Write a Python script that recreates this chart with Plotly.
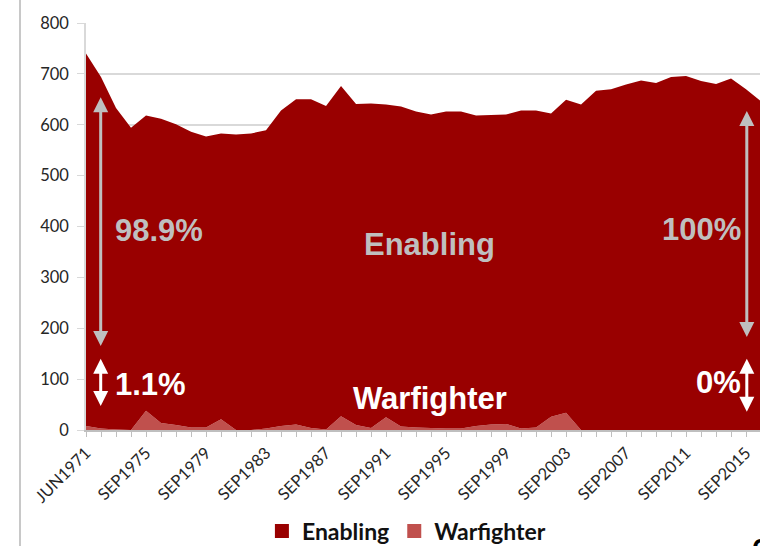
import plotly.graph_objects as go

# Fiscal-year snapshots: first one is June 1971, then every September
categories = ["JUN1971"] + [f"SEP{yr}" for yr in range(1972, 2017)]

# Total personnel (thousands) at the top of the stack
total = [740, 694, 633, 594, 618, 612, 601, 586, 577, 583,
         581, 583, 589, 628, 650, 650, 637, 676, 641, 642,
         640, 636, 626, 620, 626, 626, 618, 619, 620, 628,
         628, 622, 649, 640, 667, 670, 679, 687, 682, 694,
         696, 686, 680, 691, 670, 646]

# Warfighter share (thousands)
warfighter = [8, 3, 1, 0, 38, 14, 10, 5, 5, 21,
              0, 0, 3, 8, 11, 4, 1, 27, 10, 4,
              25, 7, 5, 4, 3, 3, 8, 11, 12, 3,
              5, 26, 34, 0, 0, 0, 0, 0, 0, 0,
              0, 0, 0, 0, 0, 0]

enabling = [t - w for t, w in zip(total, warfighter)]

# Only every fourth snapshot is labelled on the axis
tick_text = [c if i % 4 == 0 else "" for i, c in enumerate(categories)]

DARK_RED = "#990000"
LIGHT_RED = "#C0504D"
GREY = "#BFBFBF"

fig = go.Figure()

fig.add_trace(go.Scatter(
    x=categories, y=warfighter, name="Warfighter", stackgroup="one",
    mode="none", fillcolor=LIGHT_RED, showlegend=False,
))
fig.add_trace(go.Scatter(
    x=categories, y=enabling, name="Enabling", stackgroup="one",
    mode="none", fillcolor=DARK_RED, showlegend=False,
))

# Square legend keys
for name, col in [("Enabling", DARK_RED), ("Warfighter", LIGHT_RED)]:
    fig.add_trace(go.Scatter(
        x=[None], y=[None], mode="markers", name=name,
        marker=dict(symbol="square", size=14, color=col),
    ))

big = dict(family="Liberation Sans, Arial", size=31, weight="bold")

def label(x, y, text, color, xanchor="center"):
    fig.add_annotation(x=x, y=y, xref="x", yref="y", text=text,
                       showarrow=False, xanchor=xanchor, yanchor="middle",
                       font=dict(color=color, **big))

def double_arrow(x, y_top, y_bottom, color, width=3):
    fig.add_annotation(x=x, y=y_top, ax=x, ay=y_bottom,
                       xref="x", yref="y", axref="x", ayref="y",
                       text="", showarrow=True, arrowside="end+start",
                       arrowhead=2, startarrowhead=2,
                       arrowsize=1, startarrowsize=1,
                       arrowwidth=width, arrowcolor=color,
                       standoff=0, startstandoff=0)

double_arrow(0.98, 654, 162, GREY)
double_arrow(44.05, 627, 180, GREY)
double_arrow(0.98, 140, 44, "white")
double_arrow(44.05, 140, 33, "white")

label(4.87, 392, "98.9%", GREY)
label(41.0, 394, "100%", GREY)
label(22.9, 364, "Enabling", GREY)
label(22.9, 62, "Warfighter", "white")
label(4.3, 90, "1.1%", "white")
label(42.17, 93, "0%", "white")

# Slide frame line and page number
fig.add_shape(type="line", xref="paper", yref="paper",
              x0=-0.0979, x1=-0.0979, y0=-0.3, y1=1.1,
              line=dict(color="#C8C8C8", width=2))
fig.add_annotation(xref="paper", yref="paper", x=1.0, y=-0.2445,
                   xanchor="left", yanchor="top", text="6",
                   showarrow=False, xshift=-10,
                   font=dict(family="Liberation Sans, Arial", size=30,
                             weight="bold", color="black"))

tick_font = dict(family="Lato", size=16.5, color="#262626")

fig.update_layout(
    width=760, height=546,
    margin=dict(l=86, r=0, t=23, b=116, autoexpand=False),
    plot_bgcolor="white", paper_bgcolor="white",
    showlegend=True,
    legend=dict(orientation="h", x=0.261, y=-0.248,
                xanchor="left", yanchor="middle", traceorder="normal",
                font=dict(family="Lato", size=23, weight="bold",
                          color="#111111"),
                bgcolor="rgba(0,0,0,0)"),
    xaxis=dict(
        type="category", range=[0, 44.93],
        tickmode="array", tickvals=categories, ticktext=tick_text,
        tickangle=-45, ticks="outside", ticklen=5, tickcolor=GREY,
        showline=True, linecolor=GREY, linewidth=1.5,
        showgrid=False, tickfont=tick_font,
    ),
    yaxis=dict(
        range=[0, 800], dtick=100, tick0=0,
        showgrid=True, gridcolor="#D9D9D9", gridwidth=1.5,
        showline=True, linecolor="#D9D9D9", linewidth=1.5,
        ticks="outside", ticklen=7, tickcolor="#D9D9D9",
        zeroline=False, tickfont=tick_font, ticklabelstandoff=5,
    ),
)

fig.write_html("out.html")
